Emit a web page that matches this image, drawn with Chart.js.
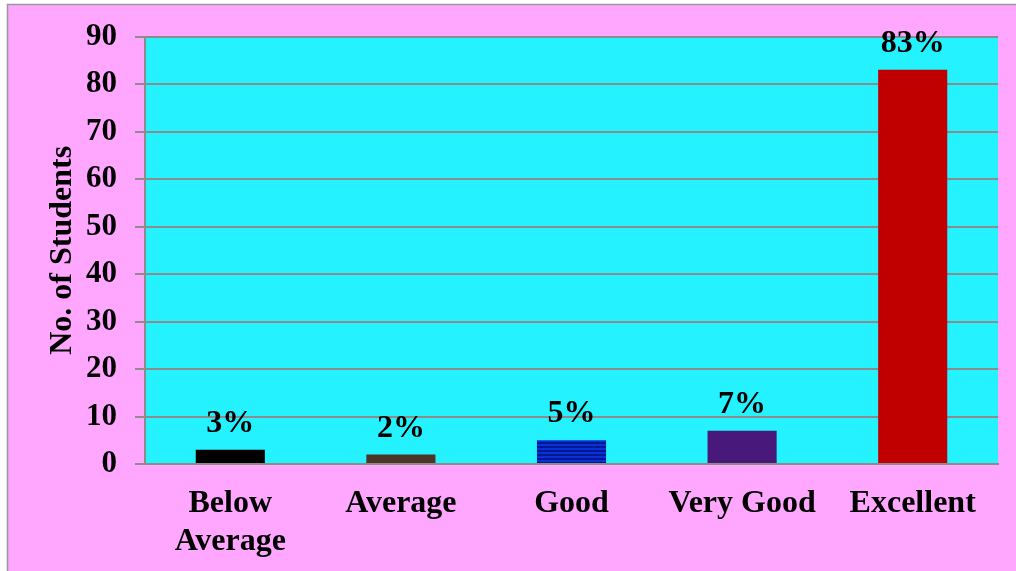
<!DOCTYPE html>
<html>
<head>
<meta charset="utf-8">
<script src="https://cdn.jsdelivr.net/npm/chart.js@4"></script>
<style>
html,body{margin:0;padding:0;background:#fff;}
canvas{display:block;}
</style>
</head>
<body>
<canvas id="c" width="1016" height="571"></canvas>
<script>
const categories = [["Below", "Average"], "Average", "Good", "Very Good", "Excellent"];
const studentValues = [3, 2, 5, 7, 83];
const percentLabels = ["3%", "2%", "5%", "7%", "83%"];
const yTicks = [0, 10, 20, 30, 40, 50, 60, 70, 80, 90];

function stripePattern() {
  const c = document.createElement('canvas');
  c.width = 4; c.height = 4;
  const g = c.getContext('2d');
  g.fillStyle = '#0a30d8'; g.fillRect(0, 0, 4, 2);
  g.fillStyle = '#001890'; g.fillRect(0, 2, 4, 2);
  return g.createPattern(c, 'repeat');
}
const ctx = document.getElementById('c').getContext('2d');
const barColors = ['#000000', '#4a3527', stripePattern(), '#48197a', '#c00000'];

const FONT = "'Liberation Serif', 'Times New Roman', serif";

const bgPlugin = {
  id: 'bg',
  beforeDraw(chart) {
    const g = chart.ctx;
    const a = chart.chartArea;
    g.save();
    g.fillStyle = '#ffffff';
    g.fillRect(0, 0, chart.width, chart.height);
    g.fillStyle = '#ffa6ff';
    g.fillRect(7, 4, chart.width, chart.height);
    g.strokeStyle = '#999999';
    g.lineWidth = 1.5;
    g.beginPath();
    g.moveTo(7.5, chart.height); g.lineTo(7.5, 4.5); g.lineTo(chart.width, 4.5);
    g.stroke();
    g.fillStyle = '#24f2ff';
    g.fillRect(a.left, a.top, a.right - a.left, a.bottom - a.top);
    g.restore();
  }
};

const labelPlugin = {
  id: 'pct',
  afterDatasetsDraw(chart) {
    const g = chart.ctx;
    const meta = chart.getDatasetMeta(0);
    g.save();
    g.font = "bold 32px " + FONT;
    g.fillStyle = '#000';
    g.textAlign = 'center';
    g.textBaseline = 'alphabetic';
    meta.data.forEach((bar, i) => {
      g.fillText(percentLabels[i], bar.x, bar.y - 18);
    });
    g.restore();
  }
};

new Chart(ctx, {
  type: 'bar',
  data: {
    labels: categories,
    datasets: [{
      data: studentValues,
      backgroundColor: barColors,
      borderWidth: 0,
      categoryPercentage: 1,
      barPercentage: 0.405
    }]
  },
  options: {
    responsive: false,
    animation: false,
    devicePixelRatio: 1,
    layout: { padding: { left: 36, top: 35, right: 18, bottom: 0 } },
    plugins: { legend: { display: false }, tooltip: { enabled: false } },
    scales: {
      x: {
        grid: { display: false, drawTicks: false },
        border: { display: true, color: '#8c8c8c', width: 2 },
        ticks: {
          color: '#000',
          font: { family: FONT, size: 32, weight: 'bold', lineHeight: 1.18 },
          padding: 21,
          maxRotation: 0,
          autoSkip: false
        },
        afterFit(scale) { scale.height = 107; }
      },
      y: {
        min: 0,
        max: 90,
        afterBuildTicks(scale) { scale.ticks = yTicks.map(v => ({ value: v })); },
        grid: { color: '#8c8c8c', lineWidth: 2, tickLength: 10, drawTicks: true },
        border: { display: true, color: '#8c8c8c', width: 2 },
        ticks: {
          color: '#000',
          font: { family: FONT, size: 31, weight: 'bold' },
          padding: 18
        },
        title: {
          display: true,
          text: 'No. of Students',
          color: '#000',
          font: { family: FONT, size: 32, weight: 'bold', lineHeight: 1.2 },
          padding: { top: 8, bottom: 0 }
        },
        afterFit(scale) { scale.width = 109; }
      }
    }
  },
  plugins: [bgPlugin, labelPlugin]
});
</script>
</body>
</html>
